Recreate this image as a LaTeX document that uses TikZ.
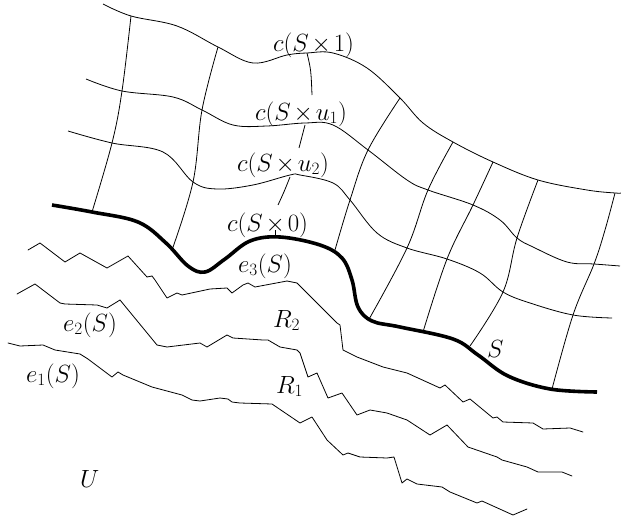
\documentclass[tikz,border=0pt]{standalone}
\newcommand{\tx}{\mskip2mu\mathord{\times}\mskip2mu}
\begin{document}
\begin{tikzpicture}[x=1pt,y=-1pt,
  gridline/.style={line width=0.8pt, line join=round},
  jag/.style={line width=0.8pt, line join=round, line cap=round},
  bold/.style={line width=3.6pt, line cap=butt},
  lbl/.style={anchor=base west, inner sep=0pt, font=\fontsize{24}{29}\selectfont}]
\useasboundingbox (0,0) rectangle (621,519);
% horizontal grid curves
\draw[gridline] plot[smooth,tension=0.6] coordinates {(103,4) (131,16) (177,26) (218,47) (253,63) (287,55) (307,53) (333,53) (367,68) (400,98) (423,123) (453,142) (493,162) (538,180) (587,190) (615,193) (621,193)};
\draw[gridline] plot[smooth,tension=0.6] coordinates {(86,79) (122,91) (173,97) (202,110) (233,125) (267,126) (305,123) (333,125) (368,150) (407,180) (428,190) (473,205) (500,220) (517,238) (533,247) (567,262) (594,264) (620,266)};
\draw[gridline] plot[smooth,tension=0.6] coordinates {(68,131) (112,143) (163,152) (193,182) (217,189) (253,185) (290,175) (300,175) (333,183) (350,200) (377,233) (407,248) (447,259) (480,273) (503,292) (530,303) (573,315) (612,318)};
% vertical grid curves
\draw[gridline] plot[smooth,tension=0.6] coordinates {(131,16) (122,91) (112,143) (92,212)};
\draw[gridline] plot[smooth,tension=0.6] coordinates {(218,47) (202,110) (193,182) (172,250)};
\draw[gridline] plot[smooth,tension=0.6] coordinates {(400,98) (368,150) (350,200) (335,250)};
\draw[gridline] plot[smooth,tension=0.6] coordinates {(453,142) (428,190) (407,248) (368,321)};
\draw[gridline] plot[smooth,tension=0.6] coordinates {(493,162) (473,205) (447,259) (423,332)};
\draw[gridline] plot[smooth,tension=0.6] coordinates {(538,180) (517,238) (503,292) (470,346)};
\draw[gridline] plot[smooth,tension=0.6] coordinates {(615,193) (605,230) (594,264) (573,315) (552,389)};
% label leader line pieces
\draw[gridline] (307,53) .. controls (311,70) .. (312,95);
\draw[gridline] (305,125) -- (299,148);
\draw[gridline] (290,177) .. controls (284,192) .. (278,205);
\draw[gridline] (275,230) -- (275,237);
% thick curve S
\draw[bold] plot[smooth,tension=0.6] coordinates {(52,205) (92,212) (138,222) (166,243) (188,266) (205,272) (225,259) (250,241) (280,237) (320,245) (342,258) (352,280) (358,307) (372,321) (400,327) (453,339) (478,355) (508,376) (550,389) (597,392)};
% jagged curves
\draw[jag] (28,250) -- (40,243) -- (65,262) -- (80,253) -- (107,268) -- (128,256) -- (147,277) -- (152,276) -- (155,280) -- (167,298) -- (177,293) -- (182,295) -- (210,289) -- (227,288) -- (232,293) -- (243,285) -- (248,283) -- (255,287) -- (287,281) -- (297,283) -- (317,303) -- (337,323) -- (340,325) -- (343,350) -- (357,357) -- (383,367) -- (407,373) -- (440,388) -- (445,385) -- (463,402) -- (470,399) -- (493,418) -- (497,417) -- (503,422) -- (533,423) -- (543,429) -- (570,428) -- (583,432);
\draw[jag] (17,294) -- (35,284) -- (60,303) -- (65,304) -- (97,305) -- (107,308) -- (120,300) -- (157,345) -- (167,347) -- (200,343) -- (207,347) -- (227,335) -- (233,338) -- (263,340) -- (268,340) -- (280,347) -- (297,350) -- (300,353) -- (308,377) -- (317,373) -- (328,398) -- (342,393) -- (357,415) -- (370,410) -- (387,413) -- (407,420) -- (430,435) -- (447,425) -- (468,447) -- (497,457) -- (502,460) -- (527,467) -- (538,472) -- (562,472) -- (572,476);
\draw[jag] (8,343) -- (20,346) -- (43,345) -- (55,350) -- (80,354) -- (88,359) -- (112,377) -- (118,372) -- (123,375) -- (152,387) -- (182,395) -- (192,400) -- (200,401) -- (220,398) -- (228,399) -- (232,402) -- (240,403) -- (272,404) -- (300,423) -- (312,417) -- (327,440) -- (343,455) -- (348,453) -- (360,457) -- (387,458) -- (394,457) -- (402,483) -- (407,479) -- (417,484) -- (442,487) -- (450,492) -- (477,503) -- (482,501) -- (513,515) -- (527,509);
% labels
\node[lbl] (l1) at (273,52) {$c(S\tx 1)$};
\node[lbl] (lu1) at (255,120) {$c(S\tx u_1)$};
\node[lbl] (lu2) at (237,171) {$c(S\tx u_2)$};
\node[lbl] (l0) at (227,231) {$c(S\tx 0)$};
\node[lbl] (e3) at (238,272) {$e_3(S)$};
\node[lbl] (e2) at (63,331) {$e_2(S)$};
\node[lbl] (e1) at (26,382) {$e_1(S)$};
\node[lbl] (r2) at (273,327) {$R_2$};
\node[lbl] (r1) at (276,393) {$R_1$};
\node[lbl] (u) at (80,487) {$U$};
\node[lbl] (s) at (487,357) {$S$};
\end{tikzpicture}
\end{document}
